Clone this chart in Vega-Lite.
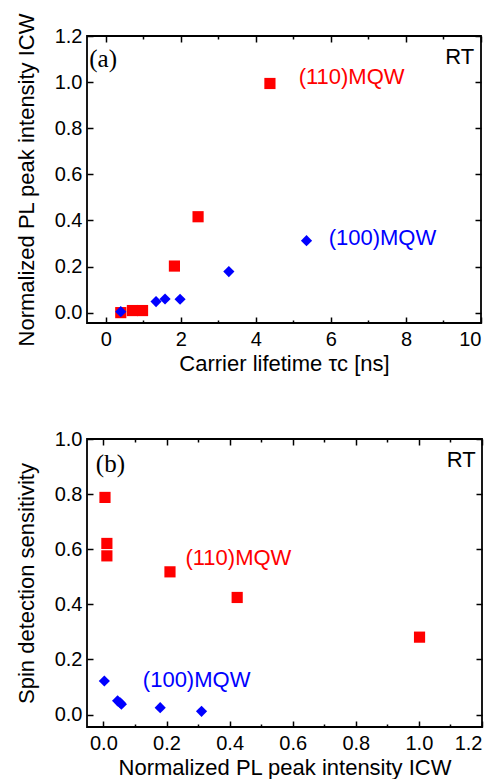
{
  "$schema": "https://vega.github.io/schema/vega-lite/v6.json",
  "padding": {"left": 14, "top": 11, "right": 5, "bottom": 0},
  "spacing": 53,
  "config": {
    "font": "Liberation Sans",
    "view": {"stroke": "black", "strokeWidth": 1.8},
    "axis": {
      "domain": false, "grid": false,
      "labelFont": "Liberation Sans", "labelFontSize": 20, "labelColor": "black",
      "titleFont": "Liberation Sans", "titleFontSize": 22, "titleFontWeight": "normal", "titleColor": "black",
      "tickColor": "black", "tickWidth": 1.5
    }
  },
  "datasets": {
    "pts": [
      {"panel": "a", "series": "(110)MQW", "x": 0.40, "y": 0.000},
      {"panel": "a", "series": "(110)MQW", "x": 0.71, "y": 0.009},
      {"panel": "a", "series": "(110)MQW", "x": 0.98, "y": 0.009},
      {"panel": "a", "series": "(110)MQW", "x": 1.83, "y": 0.202},
      {"panel": "a", "series": "(110)MQW", "x": 2.46, "y": 0.416},
      {"panel": "a", "series": "(110)MQW", "x": 4.375, "y": 0.994},
      {"panel": "a", "series": "(100)MQW", "x": 0.40, "y": 0.004},
      {"panel": "a", "series": "(100)MQW", "x": 1.34, "y": 0.048},
      {"panel": "a", "series": "(100)MQW", "x": 1.58, "y": 0.059},
      {"panel": "a", "series": "(100)MQW", "x": 1.98, "y": 0.058},
      {"panel": "a", "series": "(100)MQW", "x": 3.28, "y": 0.178},
      {"panel": "a", "series": "(100)MQW", "x": 5.35, "y": 0.312},
      {"panel": "b", "series": "(110)MQW", "x": 0.005, "y": 0.788},
      {"panel": "b", "series": "(110)MQW", "x": 0.011, "y": 0.621},
      {"panel": "b", "series": "(110)MQW", "x": 0.011, "y": 0.576},
      {"panel": "b", "series": "(110)MQW", "x": 0.211, "y": 0.518},
      {"panel": "b", "series": "(110)MQW", "x": 0.424, "y": 0.425},
      {"panel": "b", "series": "(110)MQW", "x": 1.002, "y": 0.281},
      {"panel": "b", "series": "(100)MQW", "x": 0.003, "y": 0.122},
      {"panel": "b", "series": "(100)MQW", "x": 0.045, "y": 0.050},
      {"panel": "b", "series": "(100)MQW", "x": 0.053, "y": 0.043},
      {"panel": "b", "series": "(100)MQW", "x": 0.057, "y": 0.038},
      {"panel": "b", "series": "(100)MQW", "x": 0.180, "y": 0.025},
      {"panel": "b", "series": "(100)MQW", "x": 0.311, "y": 0.012}
    ],
    "notes": [
      {"panel": "a", "series": "(110)MQW", "text": "(110)MQW", "x": 5.14, "y": 1.02},
      {"panel": "a", "series": "(100)MQW", "text": "(100)MQW", "x": 5.94, "y": 0.323},
      {"panel": "a", "series": "label", "text": "RT", "x": 9.05, "y": 1.11},
      {"panel": "b", "series": "(110)MQW", "text": "(110)MQW", "x": 0.26, "y": 0.569},
      {"panel": "b", "series": "(100)MQW", "text": "(100)MQW", "x": 0.125, "y": 0.125},
      {"panel": "b", "series": "label", "text": "RT", "x": 1.088, "y": 0.925}
    ],
    "tags": [
      {"panel": "a", "text": "(a)", "x": -0.44, "y": 1.10},
      {"panel": "b", "text": "(b)", "x": -0.024, "y": 0.91}
    ]
  },
  "vconcat": [
    {
      "width": 394, "height": 287,
      "layer": [
        {
          "data": {"name": "pts"},
          "transform": [{"filter": "datum.panel === 'a'"}],
          "mark": {"type": "point", "filled": true, "opacity": 1, "size": 125},
          "encoding": {
            "x": {"field": "x", "type": "quantitative",
              "scale": {"domain": [-0.5, 10], "nice": false, "zero": false},
              "axis": {"orient": "bottom", "values": [0,1,2,3,4,5,6,7,8,9,10],
                "labelExpr": "datum.value % 2 === 0 ? datum.label : ''",
                "tickSize": {"condition": {"test": "datum.value % 2 === 0", "value": -6}, "value": -3},
                "labelPadding": 12, "titlePadding": 4,
                "title": "Carrier lifetime τc [ns]"}},
            "y": {"field": "y", "type": "quantitative",
              "scale": {"domain": [-0.045, 1.2], "nice": false, "zero": false},
              "axis": {"orient": "left", "values": [0,0.2,0.4,0.6,0.8,1.0,1.2], "format": ".1f",
                "tickSize": -6, "labelPadding": 11, "titlePadding": 16,
                "title": "Normalized PL peak intensity ICW"}},
            "shape": {"field": "series", "type": "nominal",
              "scale": {"domain": ["(110)MQW", "(100)MQW"], "range": ["square", "diamond"]}, "legend": null},
            "color": {"field": "series", "type": "nominal",
              "scale": {"domain": ["(110)MQW", "(100)MQW", "label"], "range": ["#ff0000", "#0000ff", "#000000"]}, "legend": null}
          }
        },
        {
          "data": {"name": "notes"},
          "transform": [{"filter": "datum.panel === 'a'"}],
          "mark": {"type": "text", "fontSize": 22, "baseline": "middle", "align": "left", "font": "Liberation Sans"},
          "encoding": {
            "x": {"field": "x", "type": "quantitative",
              "axis": {"orient": "top", "values": [0,1,2,3,4,5,6,7,8,9,10], "labels": false, "title": null,
                "tickSize": {"condition": {"test": "datum.value % 2 === 0", "value": -6}, "value": -3}}},
            "y": {"field": "y", "type": "quantitative",
              "axis": {"orient": "right", "values": [0,0.2,0.4,0.6,0.8,1.0,1.2], "labels": false, "title": null, "tickSize": -6}},
            "text": {"field": "text"},
            "color": {"field": "series", "type": "nominal",
              "scale": {"domain": ["(110)MQW", "(100)MQW", "label"], "range": ["#ff0000", "#0000ff", "#000000"]}, "legend": null}
          }
        },
        {
          "data": {"name": "tags"},
          "transform": [{"filter": "datum.panel === 'a'"}],
          "mark": {"type": "text", "fontSize": 25, "baseline": "middle", "align": "left", "font": "Liberation Serif", "color": "black"},
          "encoding": {
            "x": {"field": "x", "type": "quantitative", "axis": null},
            "y": {"field": "y", "type": "quantitative", "axis": null},
            "text": {"field": "text"}
          }
        }
      ],
      "resolve": {"axis": {"x": "independent", "y": "independent"}}
    },
    {
      "width": 395, "height": 288,
      "layer": [
        {
          "data": {"name": "pts"},
          "transform": [{"filter": "datum.panel === 'b'"}],
          "mark": {"type": "point", "filled": true, "opacity": 1, "size": 125},
          "encoding": {
            "x": {"field": "x", "type": "quantitative",
              "scale": {"domain": [-0.052, 1.2], "nice": false, "zero": false},
              "axis": {"orient": "bottom", "values": [0,0.1,0.2,0.3,0.4,0.5,0.6,0.7,0.8,0.9,1.0,1.1,1.2],
                "format": ".1f",
                "labelExpr": "round(datum.value * 10) % 2 === 0 ? datum.label : ''",
                "tickSize": {"condition": {"test": "round(datum.value * 10) % 2 === 0", "value": -6}, "value": -3},
                "labelPadding": 12, "titlePadding": 4,
                "title": "Normalized PL peak intensity ICW"}},
            "y": {"field": "y", "type": "quantitative",
              "scale": {"domain": [-0.045, 1.0], "nice": false, "zero": false},
              "axis": {"orient": "left", "values": [0,0.2,0.4,0.6,0.8,1.0], "format": ".1f",
                "tickSize": -6, "labelPadding": 11, "titlePadding": 16,
                "title": "Spin detection sensitivity"}},
            "shape": {"field": "series", "type": "nominal",
              "scale": {"domain": ["(110)MQW", "(100)MQW"], "range": ["square", "diamond"]}, "legend": null},
            "color": {"field": "series", "type": "nominal",
              "scale": {"domain": ["(110)MQW", "(100)MQW", "label"], "range": ["#ff0000", "#0000ff", "#000000"]}, "legend": null}
          }
        },
        {
          "data": {"name": "notes"},
          "transform": [{"filter": "datum.panel === 'b'"}],
          "mark": {"type": "text", "fontSize": 22, "baseline": "middle", "align": "left", "font": "Liberation Sans"},
          "encoding": {
            "x": {"field": "x", "type": "quantitative",
              "axis": {"orient": "top", "values": [0,0.1,0.2,0.3,0.4,0.5,0.6,0.7,0.8,0.9,1.0,1.1,1.2], "labels": false, "title": null,
                "tickSize": {"condition": {"test": "round(datum.value * 10) % 2 === 0", "value": -6}, "value": -3}}},
            "y": {"field": "y", "type": "quantitative",
              "axis": {"orient": "right", "values": [0,0.2,0.4,0.6,0.8,1.0], "labels": false, "title": null, "tickSize": -6}},
            "text": {"field": "text"},
            "color": {"field": "series", "type": "nominal",
              "scale": {"domain": ["(110)MQW", "(100)MQW", "label"], "range": ["#ff0000", "#0000ff", "#000000"]}, "legend": null}
          }
        },
        {
          "data": {"name": "tags"},
          "transform": [{"filter": "datum.panel === 'b'"}],
          "mark": {"type": "text", "fontSize": 25, "baseline": "middle", "align": "left", "font": "Liberation Serif", "color": "black"},
          "encoding": {
            "x": {"field": "x", "type": "quantitative", "axis": null},
            "y": {"field": "y", "type": "quantitative", "axis": null},
            "text": {"field": "text"}
          }
        }
      ],
      "resolve": {"axis": {"x": "independent", "y": "independent"}}
    }
  ]
}
